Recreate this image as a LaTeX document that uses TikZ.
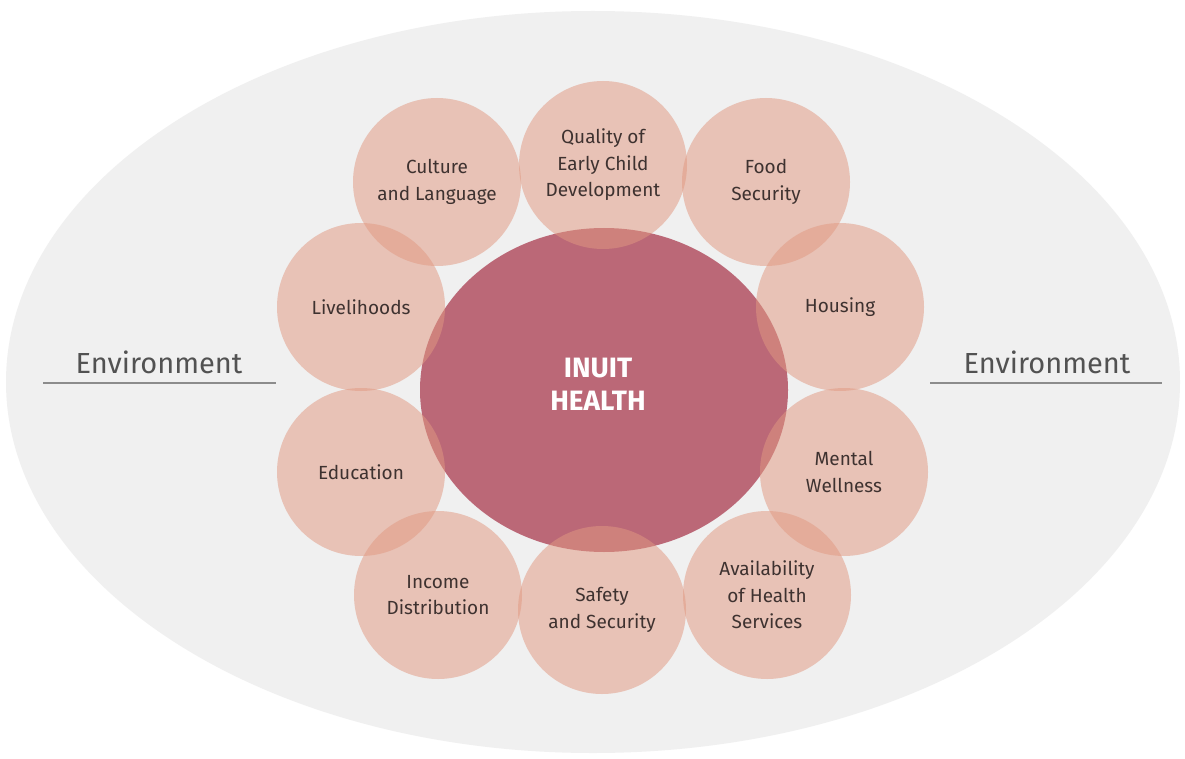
\documentclass[tikz,border=0pt]{standalone}
\usepackage{fontspec}
\setmainfont{Fira Sans}
\usetikzlibrary{shapes}

\definecolor{envgray}{RGB}{240,240,240}
\definecolor{peach}{RGB}{225,153,130}
\definecolor{rose}{RGB}{187,104,119}
\definecolor{labeltext}{RGB}{62,50,48}
\definecolor{envtext}{RGB}{82,82,82}
\definecolor{envline}{RGB}{140,140,140}

\begin{document}
\begin{tikzpicture}[x=1pt,y=-1pt]
\tikzstyle{factor} = [circle,fill=peach,fill opacity=0.52,text opacity=1,minimum size=168pt,inner sep=0pt,align=center,text=labeltext,font=\fontsize{19}{26.5}\selectfont]
\tikzstyle{envlabel} = [text=envtext,font=\fontsize{29}{30}\selectfont]
\useasboundingbox (0,0) rectangle (1185,759);
\fill[white] (0,0) rectangle (1185,759);
% outer environment
\fill[envgray] (593,382) ellipse (587pt and 371pt);
% centre
\node[ellipse,fill=rose,minimum width=368pt,minimum height=324pt,inner sep=0pt] (health) at (604,390) {};
% ring of determinants
\node[factor] (cult)  at (437,182) {Culture\\and Language};
\node[factor] (qual)  at (603,165) {Quality of\\Early Child\\Development};
\node[factor] (food)  at (766,182) {Food\\Security};
\node[factor] (hous)  at (840,307) {Housing};
\node[factor] (ment)  at (844,472) {Mental\\Wellness};
\node[factor] (avail) at (767,595) {Availability\\of Health\\Services};
\node[factor] (safe)  at (602,610) {Safety\\and Security};
\node[factor] (inc)   at (438,595) {Income\\Distribution};
\node[factor] (edu)   at (361,472) {Education};
\node[factor] (live)  at (361,307) {Livelihoods};
\node[align=center,text=white,font=\fontsize{28}{33}\selectfont\bfseries] (title) at (598,384) {INUIT\\HEALTH};
% environment labels
\node[envlabel] (envL) at (159,362) {Environment};
\node[envlabel] (envR) at (1047,362) {Environment};
\coordinate (lA) at (43,383);
\coordinate (lB) at (276,383);
\coordinate (rA) at (930,383);
\coordinate (rB) at (1162,383);
\draw[envline,line width=2pt] (lA) -- (lB);
\draw[envline,line width=2pt] (rA) -- (rB);
\end{tikzpicture}
\end{document}
